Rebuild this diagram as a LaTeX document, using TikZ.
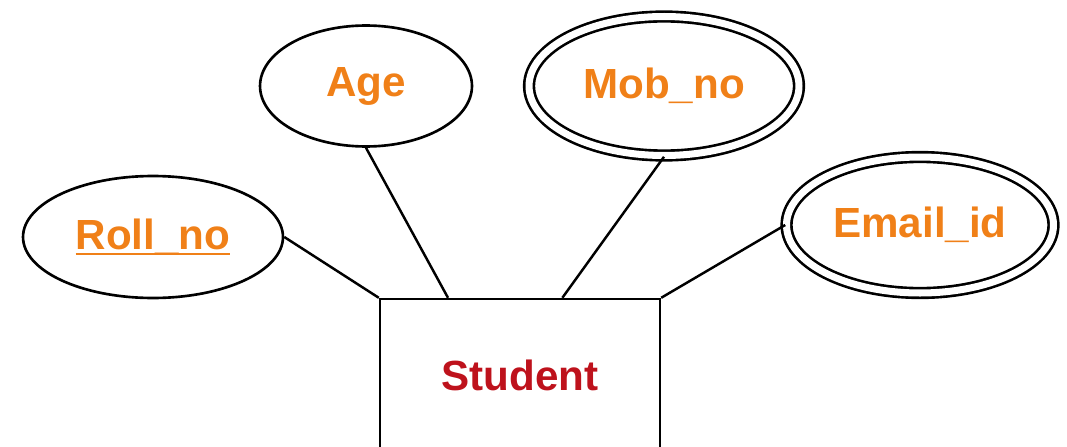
\documentclass[tikz,border=0pt]{standalone}
\usepackage{fontspec}
\setmainfont{Liberation Sans}
\usepackage{xcolor}
\usepackage{tikz}
\usetikzlibrary{shapes.geometric,calc}
\definecolor{attrorange}{RGB}{240,128,24}
\definecolor{entityred}{RGB}{190,18,28}
\newcommand{\keyattr}[1]{\setbox0\hbox{#1}\rlap{\rule[-3.2pt]{\wd0}{1.3pt}}\box0}
\tikzstyle{attribute}=[ellipse, draw=black, line width=1.5pt, inner sep=0pt, text=attrorange, font=\fontsize{24}{28}\selectfont\bfseries]
\tikzstyle{multi attribute}=[attribute, double, double distance=4pt]
\tikzstyle{entity}=[rectangle, draw=black, line width=1.4pt, minimum width=5.6cm, minimum height=3.04cm, text=entityred, font=\fontsize{24}{28}\selectfont\bfseries]
\tikzstyle{basic line}=[draw=black, line width=1.4pt]

\begin{document}
\begin{tikzpicture}[x=0.02cm, y=-0.02cm]
		\clip (0, 0) rectangle (1067, 446);

		\node [style=attribute, minimum width=5.2cm, minimum height=2.44cm]    (0) at (153, 237) {\keyattr{Roll\_no}};
		\node [style=attribute, minimum width=4.24cm, minimum height=2.42cm]    (1) at (366, 86) {Age};
		\node [style=multi attribute, minimum width=5.4cm, minimum height=2.78cm]    (2) at (664, 86) {Mob\_no};
		\node [style=multi attribute, minimum width=5.34cm, minimum height=2.72cm]    (3) at (920, 225) {Email\_id};
		\node [style=entity]    (4) at (520, 375) {Student};

		\draw [style=basic line] (0.east) to (4.north west);
		\draw [style=basic line] (1.south) to ($(4.north west)!0.245!(4.north east)$);
		\draw [style=basic line] (2.south) to ($(4.north west)!0.65!(4.north east)$);
		\draw [style=basic line] (3.west) to (4.north east);

\end{tikzpicture}
\end{document}
